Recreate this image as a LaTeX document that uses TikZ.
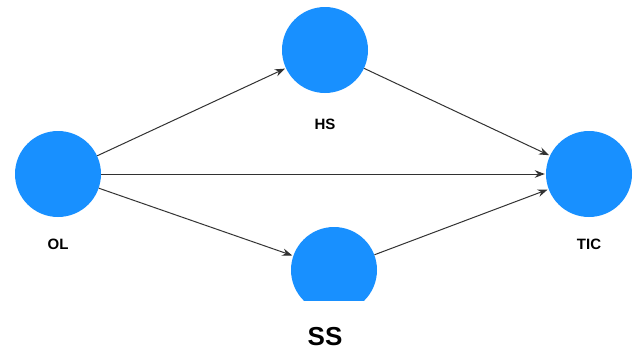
\documentclass[tikz,border=0pt]{standalone}
\usepackage{fontspec}
\setmainfont{Liberation Sans}
\usetikzlibrary{arrows.meta}
\definecolor{nodeblue}{RGB}{24,144,255}
\definecolor{linegray}{RGB}{50,50,50}
\begin{document}
\begin{tikzpicture}[x=1pt,y=-1pt,
  var/.style={circle,fill=nodeblue,draw=none,minimum size=86pt,inner sep=0pt},
  lab/.style={font=\bfseries\fontsize{15}{17}\selectfont,text=black},
  conn/.style={draw=linegray,line width=1pt,-{Stealth[length=10pt,width=7.5pt]},shorten >=1pt}]
\useasboundingbox[fill=white] (0,0) rectangle (638,351);
\node[var] (OL) at (58,174) {};
\node[var] (HS) at (325,50) {};
\begin{scope}
\clip (250,200) rectangle (420,300);
\node[var] (SS) at (334,270) {};
\end{scope}
\node[var] (TIC) at (589,174) {};
\node[lab] (OLl) at (58,244) {OL};
\node[lab] (HSl) at (325,124) {HS};
\node[lab] (TICl) at (589,244) {TIC};
\node[font=\bfseries\fontsize{26}{30}\selectfont] (SSl) at (325,337) {SS};
\draw[conn] (OL) -- (HS);
\draw[conn] (OL) -- (TIC);
\draw[conn] (OL) -- (SS);
\draw[conn] (HS) -- (TIC);
\draw[conn] (SS) -- (TIC);
\end{tikzpicture}
\end{document}
